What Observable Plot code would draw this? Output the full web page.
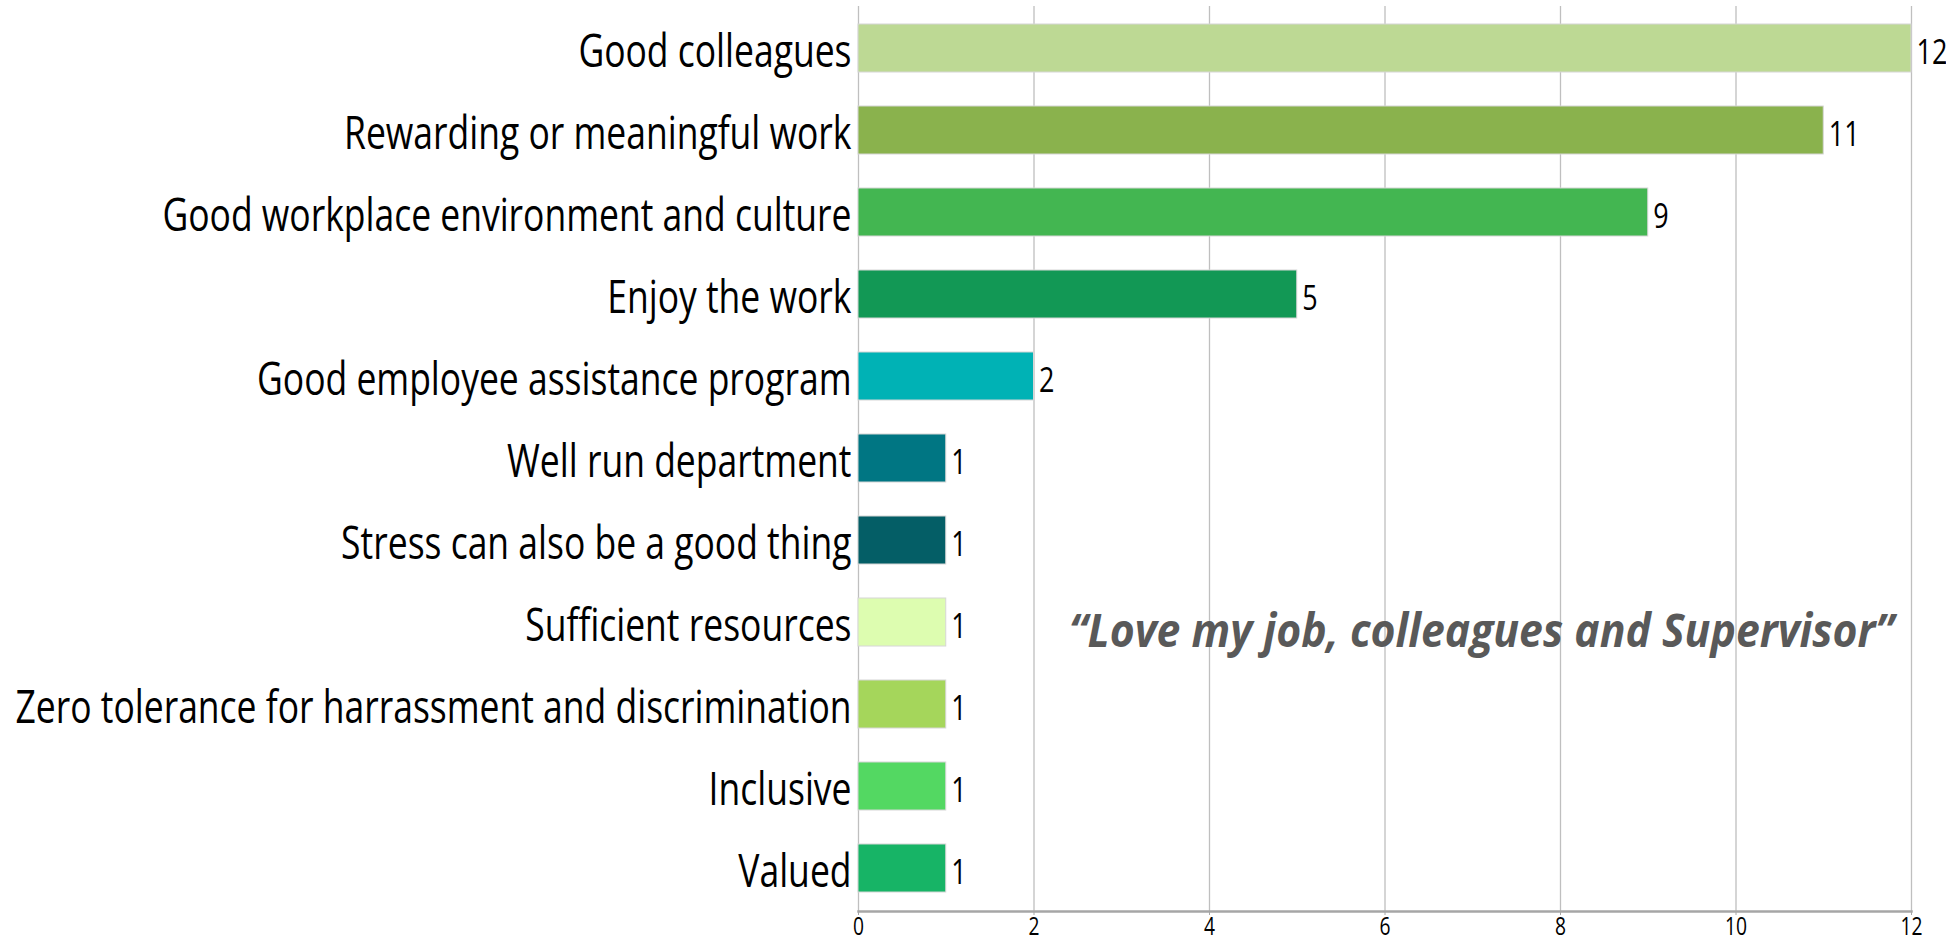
<!DOCTYPE html>
<html>
<head>
<meta charset="utf-8">
<script src="https://cdn.jsdelivr.net/npm/d3@7"></script>
<script src="https://cdn.jsdelivr.net/npm/@observablehq/plot@0.6"></script>
<style>
  html, body { margin: 0; padding: 0; background: #ffffff; }
  #chart { width: 1946px; height: 943px; overflow: hidden; }
  svg { font-family: "Open Sans", "Noto Sans", sans-serif; }
</style>
</head>
<body>
<div id="chart"></div>
<script>
const categories = [
  "Good colleagues",
  "Rewarding or meaningful work",
  "Good workplace environment and culture",
  "Enjoy the work",
  "Good employee assistance program",
  "Well run department",
  "Stress can also be a good thing",
  "Sufficient resources",
  "Zero tolerance for harrassment and discrimination",
  "Inclusive",
  "Valued"
];
const counts = [12, 11, 9, 5, 2, 1, 1, 1, 1, 1, 1];
const barColors = [
  "#bdd994", "#8ab24d", "#43b651", "#129855", "#00b2b5", "#007683",
  "#045e66", "#ddfdb0", "#a5d65b", "#53d862", "#17b466"
];
const xTicks = [0, 2, 4, 6, 8, 10, 12];
const quoteText = "\u201CLove my job, colleagues and Supervisor\u201D";
const quoteAt = [{x: 7.1, y: "Sufficient resources"}];

const data = categories.map((c, i) => ({category: c, value: counts[i], color: barColors[i]}));

const chart = Plot.plot({
  width: 1946,
  height: 943,
  marginLeft: 858,
  marginRight: 35,
  marginTop: 6,
  marginBottom: 32,
  style: {fontFamily: "'Open Sans', 'Noto Sans', sans-serif", background: "#ffffff", color: "#000000"},
  x: {domain: [0, 12], ticks: xTicks, label: null},
  y: {domain: categories, paddingInner: 0.41, paddingOuter: 0.205, label: null},
  marks: [
    Plot.gridX(xTicks, {stroke: "#bfbfbf", strokeOpacity: 1, strokeWidth: 1.3}),
    Plot.barX(data, {x: "value", y: "category", fill: "color", stroke: "#d6d6d6", strokeWidth: 1}),
    Plot.frame({anchor: "bottom", stroke: "#a6a6a6", strokeWidth: 2.5}),
    Plot.axisX({ticks: xTicks, tickSize: 4, tickPadding: 2, fontSize: 25, stroke: "#a6a6a6", fill: "#000000", label: null}),
    Plot.axisY({tickSize: 0, tickPadding: 7, fontSize: 46, dy: 4, fill: "#000000", label: null}),
    Plot.text(data, {x: "value", y: "category", text: d => String(d.value), textAnchor: "start", dx: 5, dy: 4, fontSize: 35, fill: "#000000"}),
    Plot.text(quoteAt, {x: "x", y: "y", text: () => quoteText, fontSize: 46, fontWeight: "bold", fontStyle: "italic", fill: "#595959", dy: 10})
  ]
});

document.getElementById("chart").appendChild(chart);

// Condense text horizontally to match the narrow lettering of the original
const allTexts = Array.from(chart.querySelectorAll("text"));
const labelTexts = allTexts.filter(t => categories.includes(t.textContent));
let longest = 0;
labelTexts.forEach(t => { longest = Math.max(longest, t.getComputedTextLength()); });
const k = longest > 0 ? 836 / longest : 0.74;
allTexts.forEach(t => {
  const w = t.getComputedTextLength();
  if (w <= 0) return;
  const target = t.textContent === quoteText ? 825 : w * k;
  t.setAttribute("textLength", target.toFixed(1));
  t.setAttribute("lengthAdjust", "spacingAndGlyphs");
});
</script>
</body>
</html>
